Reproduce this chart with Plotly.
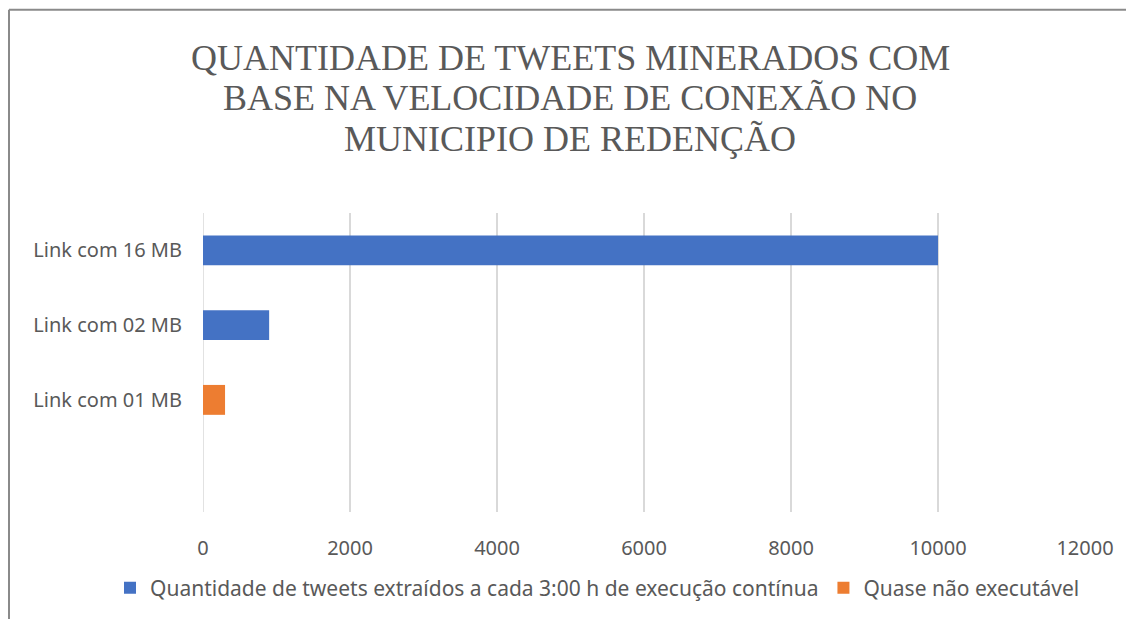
import plotly.graph_objects as go

categories = ["Link com 01 MB", "Link com 02 MB", "Link com 16 MB"]
series1_name = "Quantidade de tweets extraídos a cada 3:00 h de execução contínua"
series1_cats = ["Link com 02 MB", "Link com 16 MB"]
series1_vals = [900, 10000]
series2_name = "Quase não executável"
series2_cats = ["Link com 01 MB"]
series2_vals = [300]
x_ticks = [0, 2000, 4000, 6000, 8000, 10000, 12000]
x_tick_labels = ["0", "2000", "4000", "6000", "8000", "10000", "12000"]
title_lines = ["QUANTIDADE DE TWEETS MINERADOS COM",
               "BASE NA VELOCIDADE DE CONEXÃO NO",
               "MUNICIPIO DE REDENÇÃO"]

# page body has an 8px margin: figure origin sits at screen (8, 8)
OFF = 8
W, H = 1134 - OFF, 619 - OFF
L, T = 203 - OFF, 213 - OFF
R = W - (1085 - OFF)
B = H - (513 - OFF)
pw, ph = W - L - R, H - T - B


def px_x(sx):
    return (sx - OFF - L) / pw


def px_y(sy):
    return (T + ph - (sy - OFF)) / ph


fig = go.Figure()
fig.add_trace(go.Bar(y=series1_cats, x=series1_vals, orientation="h", name=series1_name,
                     marker=dict(color="#4472C4", line=dict(width=0)), width=0.4))
fig.add_trace(go.Bar(y=series2_cats, x=series2_vals, orientation="h", name=series2_name,
                     marker=dict(color="#ED7D31", line=dict(width=0)), width=0.4))

tick_font = dict(family="Noto Sans, Open Sans, sans-serif", size=20, color="#595959")

fig.update_layout(
    width=W, height=H,
    margin=dict(l=L, r=R, t=T, b=B, pad=0),
    paper_bgcolor="white", plot_bgcolor="white",
    barmode="overlay",
    xaxis=dict(range=[0, 12000], tickvals=x_ticks, ticktext=x_tick_labels, showgrid=True,
               gridcolor="#d9d9d9", gridwidth=1.5,
               zeroline=False, showline=False, ticks="", tickfont=tick_font, ticklabelstandoff=22,
               fixedrange=True),
    yaxis=dict(type="category", categoryorder="array", categoryarray=categories, range=[-1.5, 2.5],
               showgrid=False, zeroline=False, showline=False, ticks="", tickfont=tick_font,
               ticklabelstandoff=20),
    legend=dict(orientation="h", x=px_x(110), xanchor="left", y=px_y(588), yanchor="middle",
                font=dict(family="Noto Sans, Open Sans, sans-serif", size=21, color="#595959"),
                itemsizing="constant", traceorder="normal", tracegroupgap=0),
    showlegend=True,
)

title_centers = [58, 99, 140]
for line, cy in zip(title_lines, title_centers):
    fig.add_annotation(text=line, xref="paper", yref="paper", x=px_x(570), y=px_y(cy - 1),
                       xanchor="center", yanchor="middle", showarrow=False,
                       font=dict(family="Liberation Serif, Times New Roman, serif", size=36, color="#595959"))

# gridline at 0 drawn like others
fig.add_shape(type="line", xref="x", yref="paper", x0=0, x1=0, y0=0, y1=1,
              line=dict(color="#d9d9d9", width=1.5), layer="below")

# chart outer border (cropped at right/bottom)
bx, by = px_x(9), px_y(9)
fig.add_shape(type="line", xref="paper", yref="paper", x0=bx, x1=bx, y0=by, y1=px_y(650),
              line=dict(color="#8a8a8a", width=2))
fig.add_shape(type="line", xref="paper", yref="paper", x0=bx, x1=px_x(1150), y0=by, y1=by,
              line=dict(color="#8a8a8a", width=2))

fig.write_html("out.html")
